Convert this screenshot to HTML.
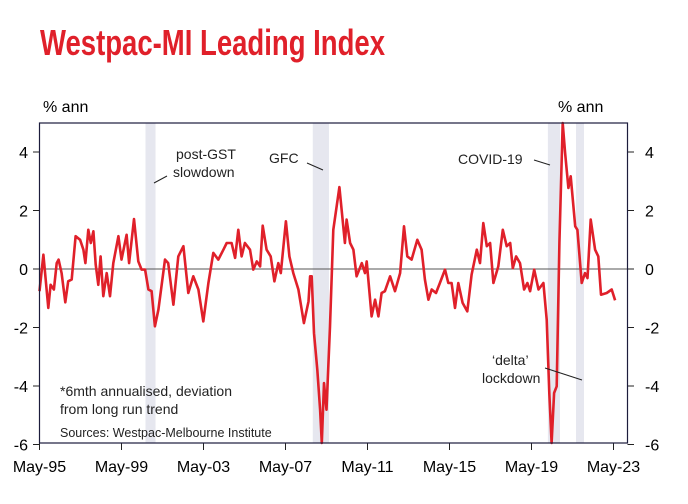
<!DOCTYPE html>
<html><head><meta charset="utf-8"><style>
body{margin:0;background:#fff;}
svg{display:block;font-family:"Liberation Sans",Arial,sans-serif;}
</style></head><body>
<svg id="chart" width="688" height="504" viewBox="0 0 688 504">
<text x="40" y="55" font-family="'Liberation Sans Narrow','Liberation Sans',sans-serif" font-weight="bold" font-size="36" fill="#e0202a" textLength="345" lengthAdjust="spacingAndGlyphs">Westpac-MI Leading Index</text>
<text x="43" y="112" font-size="16" fill="#000">% ann</text>
<text x="558" y="112" font-size="16" fill="#000">% ann</text>
<g id="bands"></g>
<g id="axes"></g>
<g id="series"></g>
<rect x="39.5" y="123" width="588" height="320" fill="none" stroke="#1c1c3c" stroke-width="1.2"/>
<g font-size="14" fill="#222">
<text x="176" y="159">post-GST</text>
<text x="173" y="177">slowdown</text>
<line x1="154" y1="183" x2="167" y2="176" stroke="#222"/>
<text x="269" y="163">GFC</text>
<line x1="307" y1="163" x2="323" y2="170" stroke="#222"/>
<text x="458" y="164">COVID-19</text>
<line x1="534" y1="160" x2="550" y2="165" stroke="#222"/>
<text x="492" y="365">‘delta’</text>
<text x="482" y="383">lockdown</text>
<line x1="545" y1="368" x2="582" y2="380" stroke="#222"/>
<text x="60" y="396">*6mth annualised, deviation</text>
<text x="60" y="414">from long run trend</text>
<text x="60" y="437" font-size="12.5">Sources: Westpac-Melbourne Institute</text>
</g>
</svg>
<script>
const yearsSinceMay95=[0,0.19,0.43,0.54,0.7,0.84,0.93,1.08,1.26,1.4,1.57,1.76,1.98,2.14,2.24,2.38,2.5,2.63,2.74,2.87,2.98,3.11,3.28,3.44,3.6,3.85,4.0,4.25,4.37,4.61,4.82,4.98,5.15,5.31,5.47,5.63,5.8,6.12,6.28,6.53,6.77,7.02,7.26,7.5,7.75,7.99,8.24,8.48,8.72,8.97,9.13,9.37,9.54,9.7,9.86,10.02,10.27,10.43,10.6,10.76,10.89,11.08,11.28,11.46,11.65,11.77,12.02,12.19,12.38,12.63,12.9,13.12,13.2,13.28,13.39,13.55,13.69,13.77,13.88,14.0,14.17,14.33,14.63,14.9,14.98,15.15,15.31,15.47,15.72,15.88,15.96,16.2,16.37,16.53,16.69,16.85,17.1,17.34,17.59,17.78,17.94,18.15,18.43,18.64,18.8,18.97,19.13,19.34,19.53,19.78,19.94,20.1,20.27,20.43,20.64,20.87,21.08,21.33,21.49,21.65,21.82,21.98,22.14,22.38,22.6,22.79,22.96,23.09,23.25,23.44,23.64,23.8,23.93,24.13,24.34,24.58,24.74,24.87,24.98,25.1,25.23,25.36,25.52,25.64,25.8,25.91,26.13,26.24,26.45,26.61,26.73,26.89,27.1,27.26,27.39,27.67,27.91,28.08];
const indexValues=[-0.76,0.49,-1.33,-0.54,-0.7,0.2,0.32,-0.14,-1.14,-0.42,-0.36,1.12,1.0,0.66,0.2,1.34,0.89,1.29,0.15,-0.54,0.43,-0.93,-0.14,-0.93,0.2,1.12,0.32,1.17,0.2,1.71,0.26,-0.02,-0.02,-0.7,-0.76,-1.96,-1.39,0.32,0.2,-1.22,0.43,0.78,-0.82,-0.25,-0.7,-1.79,-0.48,0.55,0.32,0.66,0.89,0.89,0.38,1.34,0.43,0.89,0.66,-0.02,0.26,0.09,1.48,0.66,0.43,-0.42,0.2,-0.14,1.63,0.43,-0.14,-0.7,-1.85,-1.11,-0.25,-0.25,-2.19,-3.44,-4.81,-5.95,-3.9,-4.81,-1.96,1.34,2.8,0.89,1.69,0.89,0.66,-0.25,0.2,-0.14,0.26,-1.62,-1.05,-1.62,-0.82,-0.76,-0.25,-0.76,-0.14,1.46,0.43,0.32,1.0,0.66,-0.36,-1.05,-0.7,-0.82,-0.48,-0.02,-0.48,-0.48,-1.33,-0.48,-1.16,-1.45,-0.19,0.66,0.2,1.57,0.78,0.89,-0.48,0.09,1.34,0.78,0.89,0.03,0.43,0.2,-0.7,-0.48,-0.76,-0.02,-0.7,-0.48,-1.73,-4.24,-5.95,-4.24,-4.01,0.89,4.99,3.97,2.77,3.17,1.46,1.34,-0.48,-0.14,-0.31,1.69,0.66,0.43,-0.88,-0.82,-0.7,-1.07];
const yTicks=[4,2,0,-2,-4,-6];
const xTickLabels=["May-95","May-99","May-03","May-07","May-11","May-15","May-19","May-23"];
const xTickYears=[0,4,8,12,16,20,24,28];
const bandStarts=[5.17,13.33,24.8,26.17];
const bandEnds=[5.66,14.12,25.39,26.56];

const NS="http://www.w3.org/2000/svg";
const X=t=>39.5+t*20.5;
const Y=v=>269-v*29.25;
function mk(tag,attrs,parent){const e=document.createElementNS(NS,tag);for(const k in attrs)e.setAttribute(k,attrs[k]);parent.appendChild(e);return e;}
const bands=document.getElementById('bands'),axes=document.getElementById('axes'),series=document.getElementById('series');
bandStarts.forEach((s,i)=>{const r=mk('rect',{x:X(s),y:123,width:X(bandEnds[i])-X(s),height:320,fill:'#e6e7ef'},bands);

});
yTicks.forEach(v=>{
 const y=Y(v);
 const l=mk('line',{x1:33,y1:y,x2:39.5,y2:y,stroke:'#222'},axes);
 
 
 const r=mk('line',{x1:627.5,y1:y,x2:634,y2:y,stroke:'#222'},axes);
 
 
 const a=mk('text',{x:28,y:y+6,'font-size':16,'text-anchor':'end',fill:'#000'},axes);a.textContent=v;
 
 
 const b=mk('text',{x:645,y:y+6,'font-size':16,fill:'#000'},axes);b.textContent=v;
 
 
});
const z=mk('line',{x1:39.5,y1:Y(0),x2:627.5,y2:Y(0),stroke:'#555','stroke-width':1},axes);


xTickYears.forEach((t,i)=>{
 const x=X(t);
 const l=mk('line',{x1:x,y1:443,x2:x,y2:450,stroke:'#222'},axes);
 
 
 const tx=mk('text',{x:x,y:472,'font-size':16,'text-anchor':'middle',fill:'#000'},axes);tx.textContent=xTickLabels[i];
 
 
});
const d=yearsSinceMay95.map((t,i)=>(i?'L':'M')+X(t).toFixed(1)+','+Y(indexValues[i]).toFixed(1)).join('');
const p=mk('path',{d:d,fill:'none',stroke:'#e0202a','stroke-width':2.6,'stroke-linejoin':'round'},series);


</script>
</body></html>
